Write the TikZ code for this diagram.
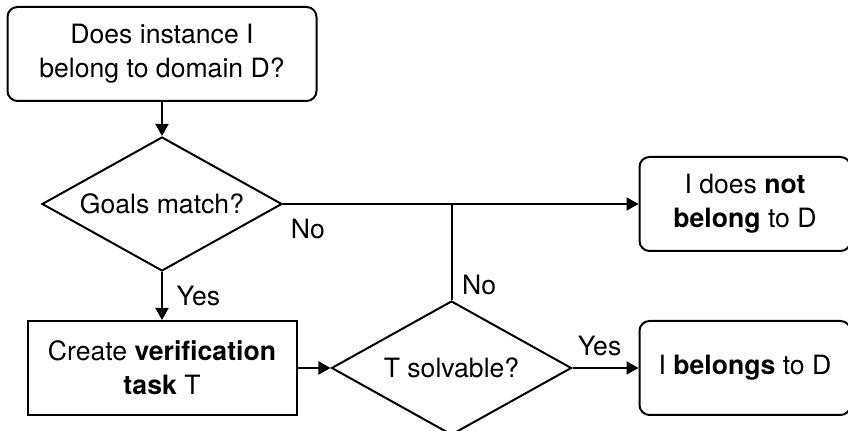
\documentclass[tikz,border=0pt]{standalone}
\usepackage{fontspec}
\setmainfont{TeX Gyre Heros}
\usetikzlibrary{arrows.meta,positioning,shapes.geometric}

\begin{document}
\begin{tikzpicture}[
  line width=1pt,
  every node/.style={font=\fontsize{13.3}{17}\selectfont},
  d/.style={draw, diamond, aspect=1.8, align=center, inner sep=1pt, minimum width=120pt, minimum height=67pt},
  s/.style={draw, align=center, minimum width=134.5pt, minimum height=47pt},
  t/.style={draw, rounded corners=5pt, align=center, minimum width=154.5pt, minimum height=47pt},
  arr/.style={-{Triangle[length=6pt,width=6.5pt]}}
]
  \useasboundingbox (0,0) rectangle (424pt,215.5pt);
  \node[t] (ask) at (81pt,188.5pt) {Does instance I\\belong to domain D?};
  \node[d, below=17pt of ask] (goals) {Goals match?};
  \node[s, below=24pt of goals] (create) {Create \textbf{verification}\\\textbf{task} T};
  \node[d, right=16.5pt of create] (solv) {T solvable?};
  \node[t, right=33pt of solv, minimum width=105.5pt] (belongs) {I \textbf{belongs} to D};
  \node[t, above=34pt of belongs, minimum width=105.5pt] (notbel) {I does \textbf{not}\\\textbf{belong} to D};
  \coordinate (join) at (solv.north |- goals.east);

  \draw[arr] (ask) -- (goals);
  \draw[arr] (goals) -- node[right, xshift=3.5pt]{Yes} (create);
  \draw[arr] (create) -- (solv);
  \draw[arr] (solv) -- node[pos=0.41, above, yshift=2pt]{Yes} (belongs);
  \draw[arr] (goals.east) -- node[pos=0.07, below, yshift=-3.5pt]{No} (goals.east -| notbel.west);
  \draw (solv.north) -- node[pos=0.16, right, xshift=1.5pt]{No} (join);
\end{tikzpicture}
\end{document}
